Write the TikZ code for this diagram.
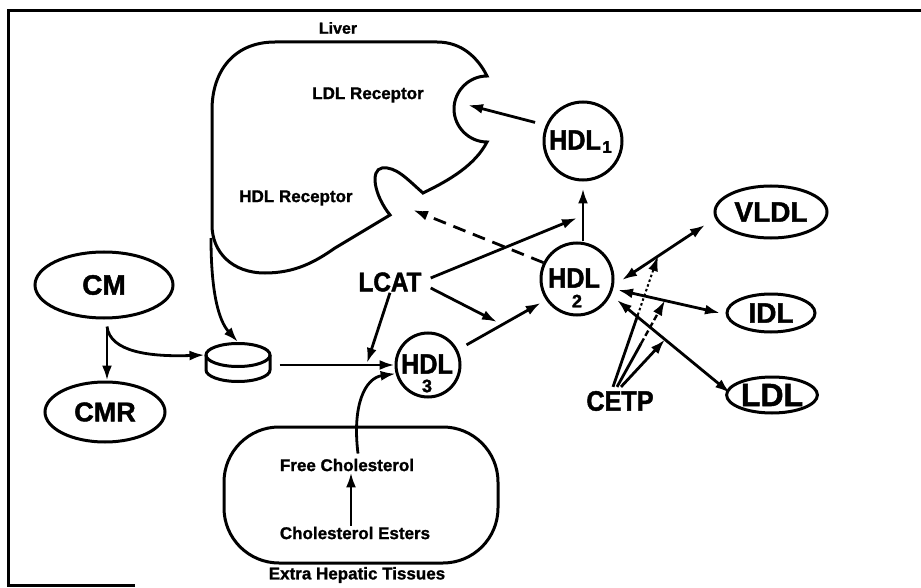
\documentclass[tikz,border=0pt]{standalone}
\usepackage{fontspec}
\setmainfont{Liberation Sans}[BoldFeatures={FakeBold=1.2}]
\newfontfamily\condf{Liberation Sans}[FakeStretch=0.9, BoldFeatures={FakeBold=1.6}]
\newfontfamily\heavyf{Liberation Sans}[BoldFeatures={FakeBold=1.6}]
\usetikzlibrary{arrows.meta,shapes.geometric,calc}
\begin{document}
\begin{tikzpicture}[x=1pt,y=-1pt,
  lw/.style={line width=3pt},
  arrw/.style={line width=2.8pt, -{Latex[length=15pt,width=10pt]}},
  dblarr/.style={line width=2.8pt, {Latex[length=15pt,width=10pt]}-{Latex[length=15pt,width=10pt]}},
  plainln/.style={line width=2.8pt},
  ellnode/.style={draw, line width=3pt, ellipse, inner sep=0pt},
  circnode/.style={draw, line width=3pt, circle, inner sep=0pt},
  smalltxt/.style={inner sep=1pt, font=\fontsize{17}{19}\selectfont\bfseries},
  bigtxt/.style={inner sep=1pt, font=\heavyf\fontsize{28}{30}\selectfont\bfseries},
  condtxt/.style={inner sep=1pt, font=\condf\fontsize{28}{30}\selectfont\bfseries},
  subtxt/.style={inner sep=0pt, font=\heavyf\fontsize{18}{18}\selectfont\bfseries}
]
\useasboundingbox (0,0) rectangle (921,588);
% frame
\draw[lw] (135,585) -- (8,585) -- (8,11) -- (921,11);

% liver outline
\draw[lw] (275,42) -- (437,42) .. controls (462,42) and (478,58) .. (487,76)
  .. controls (469,76) and (454,91) .. (454,109)
  .. controls (454,127) and (469,142) .. (487,142)
  .. controls (475,165) and (450,180) .. (423,193)
  .. controls (408,180) and (396,166) .. (382,168)
  .. controls (370,170) and (374,195) .. (390,215)
  -- (335,248) .. controls (315,262) and (295,273) .. (265,273)
  .. controls (232,273) and (212,252) .. (212,225)
  -- (212,110) .. controls (212,70) and (235,42) .. (275,42) -- cycle;
\node[smalltxt, font=\fontsize{16}{18}\selectfont\bfseries] (liver) at (338,28) {Liver};
\node[smalltxt] (ldlr) at (368,95) {LDL Receptor};
\node[smalltxt] (hdlr) at (296,198) {HDL Receptor};
\coordinate (lrin) at (468,105);
\coordinate (hrin) at (413,210);
\coordinate (lstart) at (211,238);

% extra hepatic tissues
\draw[lw, rounded corners=55pt] (224,427) rectangle (498,563);
\node[smalltxt] (fc) at (347,465) {Free Cholesterol};
\node[smalltxt] (ce) at (355,533) {Cholesterol Esters};
\node[smalltxt] (eht) at (357,575) {Extra Hepatic Tissues};

% CM, CMR
\node[ellnode, minimum width=138pt, minimum height=66pt, bigtxt] (cm) at (104,285) {CM};
\node[ellnode, minimum width=120pt, minimum height=60pt, bigtxt, font=\heavyf\fontsize{27}{29}\selectfont\bfseries] (cmr) at (105,412) {CMR};

% disc
\node[ellnode, minimum width=64pt, minimum height=23pt] (disc) at (238,355) {};
\draw[lw] (206,355) -- (206,370) .. controls (206,376.3) and (220.3,381.5) .. (238,381.5)
  .. controls (255.7,381.5) and (270,376.3) .. (270,370) -- (270,355);

% HDL circles
\node[circnode, minimum size=78pt] (hdl1) at (583,141) {};
\node[condtxt] (hdl1t) at (575,140) {HDL};
\node[subtxt, font=\heavyf\fontsize{17}{17}\selectfont\bfseries] (hdl1s) at (607,147) {1};
\node[circnode, minimum size=72pt] (hdl2) at (577,279) {};
\node[condtxt] (hdl2t) at (574,278) {HDL};
\node[subtxt] (hdl2s) at (577,301) {2};
\node[circnode, minimum size=64pt] (hdl3) at (428,365) {};
\node[condtxt] (hdl3t) at (427,364) {HDL};
\node[subtxt] (hdl3s) at (427,386) {3};

% VLDL, IDL, LDL
\node[ellnode, minimum width=112pt, minimum height=52pt, bigtxt] (vldl) at (771,212) {VLDL};
\node[ellnode, minimum width=88pt, minimum height=38pt, bigtxt] (idl) at (771,313) {IDL};
\node[ellnode, minimum width=76pt, minimum height=36pt, bigtxt, font=\heavyf\fontsize{32}{34}\selectfont\bfseries] (ldl) at (772,395) {LDL};

% LCAT, CETP
\node[condtxt, font=\condf\fontsize{27}{29}\selectfont\bfseries] (lcat) at (390,282) {LCAT};
\node[condtxt] (cetp) at (620,401) {CETP};

% connectors: left part
\draw[arrw] ([xshift=3pt,yshift=-7pt]cm.south) -- ([xshift=2pt]cmr.north);
\draw[arrw] ([xshift=3pt,yshift=-7pt]cm.south) .. controls (110,352) and (150,357) .. (disc.west);
\draw[arrw] (lstart) .. controls (211,290) and (218,320) .. (disc.north);
\draw[arrw] ($(disc.east)+(8,10)$) -- (hdl3.west);

% LCAT
\coordinate (t5) at (367,363);
\coordinate (t6) at (577,218);
\coordinate (t7) at (497,322);
\draw[arrw] (lcat.south) -- (t5);
\draw[arrw] ($(lcat.east)+(8,-4)$) -- (t6);
\draw[arrw] ($(lcat.east)+(8,6)$) -- (t7);

% HDL flows
\draw[arrw, shorten <=10pt, shorten >=6pt] (hdl3.27) -- (hdl2.214);
\draw[arrw] (hdl2.north -| hdl1.south) -- ([yshift=-7pt]hdl1.south);
\draw[arrw, shorten <=11pt] (hdl1.157) -- (lrin);
\draw[arrw, dash pattern=on 13pt off 8pt] (hdl2.154) -- (hrin);

% free cholesterol
\draw[arrw] ([xshift=-4pt]ce.north) -- ([xshift=4pt]fc.south);
\draw[arrw] ($(fc.north)+(11,-4)$) .. controls (352,405) and (365,378) .. (hdl3.195);

% exchanges
\coordinate (v1) at ($(hdl2.center)+(45,1)$);
\coordinate (v2) at ($(vldl.center)+(-66,13)$);
\coordinate (i1) at ($(hdl2.center)+(41,11)$);
\coordinate (i2) at ($(idl.center)+(-51,0)$);
\coordinate (l1) at ($(hdl2.center)+(40,21)$);
\coordinate (l2) at ($(ldl.center)+(-42,-2)$);
\draw[dblarr] (v1) -- (v2);
\draw[dblarr] (i1) -- (i2);
\draw[dblarr] (l1) -- (l2);

% CETP
\coordinate (c1) at ($(cetp.north)+(-7,-3)$);
\coordinate (c2) at ($(cetp.north)+(-3,-3)$);
\coordinate (c3) at ($(cetp.north)+(1,-3)$);
\coordinate (tip1) at ($(v1)!0.434!(v2)$);
\coordinate (tip2) at ($(i1)!0.46!(i2)$);
\coordinate (tip3) at ($(l1)!0.425!(l2)$);
\coordinate (m1) at ($(c1)!0.55!(tip1)$);
\coordinate (m2) at ($(c2)!0.5!(tip2)$);
\draw[plainln] (c1) -- (m1);
\draw[arrw, line width=2pt, dash pattern=on 2.5pt off 2.5pt] (m1) -- (tip1);
\draw[plainln] (c2) -- (m2);
\draw[arrw, line width=2.4pt, dash pattern=on 6pt off 3pt] (m2) -- (tip2);
\draw[arrw] (c3) -- (tip3);
\end{tikzpicture}
\end{document}
